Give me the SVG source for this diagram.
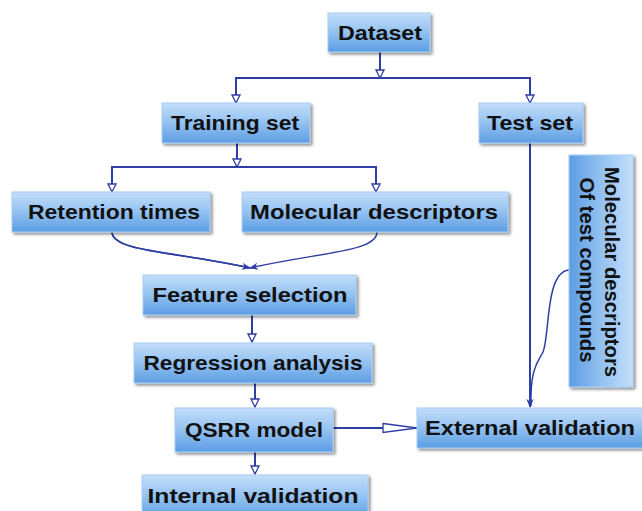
<svg xmlns="http://www.w3.org/2000/svg" width="642" height="511" viewBox="0 0 642 511">
<defs>
<linearGradient id="g" x1="0" y1="0" x2="0" y2="1">
<stop offset="0" stop-color="#c3defa"/>
<stop offset="0.5" stop-color="#93c1f0"/>
<stop offset="1" stop-color="#5c9de4"/>
</linearGradient>
<linearGradient id="gv" x1="1" y1="0" x2="0" y2="0">
<stop offset="0" stop-color="#c3defa"/>
<stop offset="0.5" stop-color="#93c1f0"/>
<stop offset="1" stop-color="#5c9de4"/>
</linearGradient>
<filter id="sh" x="-10%" y="-20%" width="130%" height="160%">
<feGaussianBlur in="SourceAlpha" stdDeviation="1.5"/>
<feOffset dx="1.5" dy="2" result="b"/>
<feComponentTransfer><feFuncA type="linear" slope="0.45"/></feComponentTransfer>
<feMerge><feMergeNode/><feMergeNode in="SourceGraphic"/></feMerge>
</filter>
<marker id="open" viewBox="0 0 10 10" refX="9" refY="5" markerWidth="10" markerHeight="10" markerUnits="userSpaceOnUse" orient="auto">
<path d="M1,1 L9,5 L1,9 Z" fill="#fff" stroke="#2f3ea6" stroke-width="1.3"/>
</marker>
<marker id="openlong" viewBox="0 0 36 12" refX="35" refY="6" markerWidth="36" markerHeight="12" markerUnits="userSpaceOnUse" orient="auto">
<path d="M1,1.5 L35,6 L1,10.5 Z" fill="#fff" stroke="#2f3ea6" stroke-width="1.3"/>
</marker>
<marker id="fill" viewBox="0 0 10 10" refX="9" refY="5" markerWidth="9" markerHeight="9" markerUnits="userSpaceOnUse" orient="auto">
<path d="M0,1 L10,5 L0,9 L3,5 Z" fill="#2f3ea6"/>
</marker>
</defs>
<style>
.box{fill:url(#g);stroke:#a9cdf2;stroke-width:1;filter:url(#sh)}
.t{font-family:"Liberation Sans",Arial,sans-serif;font-weight:bold;font-size:21px;fill:#111;text-anchor:middle}
.c{fill:none;stroke:#2f3ea6;stroke-width:2}
.cf{fill:none;stroke:#2f3ea6;stroke-width:1.5}
</style>

<g id="connectors">
<path class="c" d="M380,52 V78" marker-end="url(#open)"/>
<path class="c" d="M236,103 V78 H530 V103" marker-end="url(#open)"/>
<path class="c" d="M236,78 V103" marker-end="url(#open)"/>
<path class="c" d="M237,143 V167" marker-end="url(#open)"/>
<path class="c" d="M112,192 V167 H376 V192" marker-end="url(#open)"/>
<path class="c" d="M237,167 H112 V192" marker-end="url(#open)"/>
<path class="cf" d="M112,232 C112,252 180,252 250,268"/>
<path class="cf" d="M377,232 C377,252 320,252 250,268" marker-end="url(#fill)"/>
<path class="cf" d="M112,232 C112,252 180,252 250,268" marker-end="url(#fill)"/>
<path class="c" d="M252,315 V342" marker-end="url(#open)"/>
<path class="c" d="M255,383 V407" marker-end="url(#open)"/>
<path class="c" d="M255,452 V474" marker-end="url(#open)"/>
<path class="c" d="M333,428 H417" marker-end="url(#openlong)"/>
<path class="c" d="M530,143 V407" marker-end="url(#fill)"/>
<path class="cf" d="M569,270 C545,272 550,335 543,352 C538,362 530,368 531,406"/>
</g>

<g id="dataset"><rect class="box" x="328" y="13" width="102" height="39"/><text class="t" x="380" y="40" textLength="84" lengthAdjust="spacingAndGlyphs">Dataset</text></g>
<g id="training"><rect class="box" x="162" y="103" width="148" height="40"/><text class="t" x="235" y="130" textLength="128" lengthAdjust="spacingAndGlyphs">Training set</text></g>
<g id="test"><rect class="box" x="479" y="103" width="104" height="40"/><text class="t" x="530" y="130" textLength="86" lengthAdjust="spacingAndGlyphs">Test set</text></g>
<g id="retention"><rect class="box" x="12" y="192" width="198" height="40"/><text class="t" x="114" y="219" textLength="172" lengthAdjust="spacingAndGlyphs">Retention times</text></g>
<g id="moldesc"><rect class="box" x="242" y="192" width="266" height="40"/><text class="t" x="374" y="219" textLength="248" lengthAdjust="spacingAndGlyphs">Molecular descriptors</text></g>
<g id="feature"><rect class="box" x="143" y="275" width="213" height="40"/><text class="t" x="250" y="302" textLength="195" lengthAdjust="spacingAndGlyphs">Feature selection</text></g>
<g id="regression"><rect class="box" x="134" y="343" width="238" height="40"/><text class="t" x="253" y="370" textLength="219" lengthAdjust="spacingAndGlyphs">Regression analysis</text></g>
<g id="qsrr"><rect class="box" x="175" y="408" width="158" height="44"/><text class="t" x="254" y="437" textLength="138" lengthAdjust="spacingAndGlyphs">QSRR model</text></g>
<g id="external"><rect class="box" x="417" y="408" width="228" height="40"/><text class="t" x="530" y="435" textLength="210" lengthAdjust="spacingAndGlyphs">External validation</text></g>
<g id="internal"><rect class="box" x="142" y="475" width="226" height="44"/><text class="t" x="253" y="503" textLength="211" lengthAdjust="spacingAndGlyphs">Internal validation</text></g>
<g id="moltest"><rect x="569" y="155" width="64" height="232" fill="url(#gv)" stroke="#a9cdf2" stroke-width="1" filter="url(#sh)"/>
<text class="t" transform="translate(605,272) rotate(90)" x="0" y="0" textLength="210" lengthAdjust="spacingAndGlyphs">Molecular descriptors</text>
<text class="t" transform="translate(580,270) rotate(90)" x="0" y="0" textLength="185" lengthAdjust="spacingAndGlyphs">Of test compounds</text>
</g>
</svg>
